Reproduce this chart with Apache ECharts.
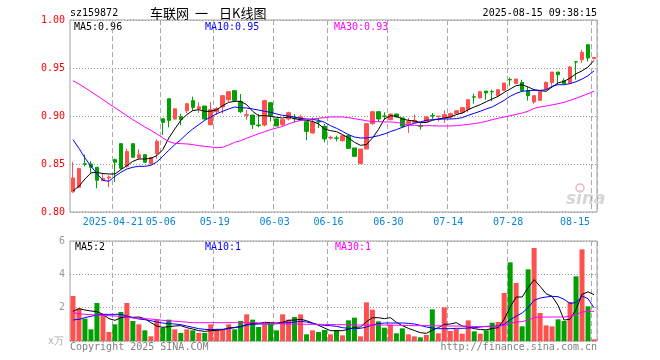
<!DOCTYPE html>
<html><head><meta charset="utf-8">
<script src="https://cdn.jsdelivr.net/npm/echarts/dist/echarts.min.js"></script>
<style>html,body{margin:0;padding:0;background:#fff}#c{width:660px;height:360px}</style>
</head><body><div id="c"></div>
<script>
const dates = ['2025-04-10','2025-04-11','2025-04-14','2025-04-15','2025-04-16','2025-04-17','2025-04-18','2025-04-21','2025-04-22','2025-04-23','2025-04-24','2025-04-25','2025-04-28','2025-04-29','2025-04-30',
'2025-05-06','2025-05-07','2025-05-08','2025-05-09','2025-05-12','2025-05-13','2025-05-14','2025-05-15','2025-05-16','2025-05-19','2025-05-20','2025-05-21','2025-05-22','2025-05-23','2025-05-26','2025-05-27','2025-05-28','2025-05-29','2025-05-30',
'2025-06-03','2025-06-04','2025-06-05','2025-06-06','2025-06-09','2025-06-10','2025-06-11','2025-06-12','2025-06-13','2025-06-16','2025-06-17','2025-06-18','2025-06-19','2025-06-20','2025-06-23','2025-06-24','2025-06-25','2025-06-26','2025-06-27','2025-06-30',
'2025-07-01','2025-07-02','2025-07-03','2025-07-04','2025-07-07','2025-07-08','2025-07-09','2025-07-10','2025-07-11','2025-07-14','2025-07-15','2025-07-16','2025-07-17','2025-07-18','2025-07-21','2025-07-22','2025-07-23','2025-07-24','2025-07-25','2025-07-28','2025-07-29','2025-07-30','2025-07-31',
'2025-08-01','2025-08-04','2025-08-05','2025-08-06','2025-08-07','2025-08-08','2025-08-11','2025-08-12','2025-08-13','2025-08-14','2025-08-15'];

const opens = [0.821,0.8257,0.8503,0.85,0.8466,0.8327,0.8355,0.8545,0.8712,0.8476,
0.8712,0.8563,0.8597,0.85,0.8608,0.8972,0.918,0.8969,0.8993,0.9055,
0.916,0.9076,0.9104,0.891,0.9045,0.9094,0.917,0.9264,0.9149,0.9007,
0.901,0.8906,0.8906,0.9139,0.8969,0.891,0.8969,0.8979,0.8955,0.8941,
0.8823,0.8941,0.8892,0.8771,0.8771,0.8743,0.8795,0.8667,0.8504,0.8656,
0.892,0.9045,0.9,0.8962,0.902,0.898,0.892,0.8934,0.8899,0.8944,
0.9005,0.8995,0.898,0.899,0.9024,0.9038,0.9066,0.92,0.9188,0.926,
0.9255,0.9212,0.9267,0.938,0.934,0.935,0.9264,0.9146,0.9163,0.928,
0.935,0.9458,0.9368,0.9344,0.9566,0.9586,0.9743,0.9597];
const closes = [0.8355,0.8452,0.8497,0.8466,0.833,0.8348,0.8365,0.8518,0.8455,0.8629,
0.857,0.8597,0.8518,0.857,0.8736,0.8934,0.8955,0.9076,0.8962,0.9128,
0.909,0.9097,0.8969,0.9066,0.9076,0.9212,0.9253,0.9163,0.9045,0.9014,
0.891,0.8899,0.916,0.9003,0.8896,0.8962,0.9035,0.8972,0.899,0.884,
0.8934,0.8937,0.876,0.8778,0.8767,0.8795,0.8663,0.858,0.8656,0.892,
0.9045,0.8969,0.8997,0.902,0.899,0.8893,0.8944,0.8955,0.8892,0.899,
0.9001,0.8999,0.9014,0.9024,0.9055,0.9087,0.917,0.9196,0.9253,0.924,
0.9251,0.9274,0.9344,0.9376,0.9385,0.9264,0.9212,0.9212,0.9257,0.935,
0.9458,0.943,0.9337,0.951,0.9562,0.9663,0.9604,0.961];
const lows = [0.820,0.825,0.8476,0.8407,0.8247,0.832,0.8257,0.8313,0.8441,0.8462,
0.857,0.8549,0.8518,0.85,0.8556,0.8802,0.8882,0.8962,0.8903,0.9031,
0.9055,0.9031,0.8962,0.89,0.901,0.9024,0.915,0.9146,0.9031,0.8962,
0.8865,0.8882,0.8892,0.8944,0.8896,0.889,0.8955,0.8934,0.8948,0.8747,
0.8816,0.8875,0.8726,0.8754,0.8736,0.8736,0.8663,0.858,0.8504,0.8656,
0.891,0.8941,0.8962,0.8955,0.8983,0.8875,0.8823,0.8927,0.8858,0.8944,
0.8969,0.8944,0.8927,0.8969,0.901,0.9024,0.9038,0.9128,0.9181,0.917,
0.9153,0.9205,0.926,0.9316,0.933,0.9264,0.916,0.9128,0.9163,0.928,
0.9316,0.933,0.9337,0.9344,0.9378,0.9552,0.9569,0.9597];
const highs = [0.852,0.846,0.8597,0.8528,0.8466,0.840,0.8382,0.8556,0.8712,0.866,
0.8712,0.8653,0.8597,0.857,0.8757,0.8972,0.918,0.9076,0.9024,0.9128,
0.9201,0.9142,0.9104,0.9146,0.9094,0.9212,0.9253,0.9264,0.9229,0.9062,
0.901,0.902,0.917,0.9139,0.8976,0.8962,0.9045,0.902,0.9014,0.8941,
0.8986,0.8979,0.8917,0.8795,0.8795,0.8802,0.8813,0.8667,0.8656,0.892,
0.9045,0.9045,0.9038,0.9024,0.9024,0.898,0.898,0.9014,0.8927,0.9,
0.9031,0.9,0.9059,0.9035,0.9062,0.9094,0.917,0.9233,0.9257,0.926,
0.9274,0.9274,0.9344,0.94,0.9385,0.9378,0.9302,0.9212,0.9257,0.936,
0.9458,0.9458,0.9392,0.9521,0.9566,0.969,0.9743,0.961];

const ma5 = [0.822,0.8268,0.8344,0.8407,0.8414,0.84,0.8396,0.8396,0.8441,0.8483,
0.8528,0.8552,0.8552,0.8559,0.8587,0.865,0.8771,0.8865,0.8955,0.9014,
0.9056,0.9066,0.9049,0.9049,0.9066,0.9108,0.9142,0.9153,0.9153,0.9118,
0.9049,0.9003,0.9003,0.8997,0.8986,0.8979,0.899,0.8972,0.8962,0.8955,
0.8944,0.8917,0.8865,0.8847,0.8837,0.8806,0.8771,0.8726,0.8695,0.8702,
0.8771,0.8858,0.8969,0.9003,0.8997,0.8969,0.8955,0.8948,0.8934,0.8931,
0.8955,0.8969,0.8979,0.899,0.9014,0.9031,0.9066,0.9094,0.9118,0.9149,
0.9177,0.9205,0.9246,0.9281,0.9316,0.9326,0.9302,0.9274,0.9264,0.9257,
0.9302,0.9344,0.9361,0.9395,0.944,0.947,0.951,0.958];
const ma10 = [0.8754,0.8663,0.8563,0.8476,0.84,0.833,0.832,0.8372,0.8414,0.8448,
0.8466,0.8476,0.8476,0.8486,0.8521,0.858,0.8643,0.8702,0.8754,0.8813,
0.8865,0.891,0.8955,0.899,0.9024,0.9049,0.9073,0.9094,0.9087,0.9083,
0.9073,0.9062,0.9049,0.9038,0.9021,0.9007,0.9,0.899,0.8976,0.8969,
0.8965,0.8955,0.8934,0.8899,0.8872,0.884,0.8806,0.8781,0.8771,0.8771,
0.8781,0.8795,0.8813,0.8837,0.8858,0.8882,0.8903,0.8924,0.8938,0.8955,
0.8962,0.8965,0.8969,0.8969,0.8972,0.8983,0.9007,0.9028,0.9049,0.9073,
0.9094,0.9128,0.9163,0.9205,0.9236,0.9257,0.9264,0.9267,0.9267,0.9274,
0.9309,0.9326,0.9326,0.9337,0.9357,0.9385,0.942,0.947];
const ma30 = [0.9368,0.9333,0.9295,0.9253,0.9212,0.917,0.9128,0.9087,0.9045,0.9003,
0.8962,0.8924,0.8885,0.8851,0.8813,0.8771,0.8733,0.8715,0.8712,0.8709,
0.8702,0.8691,0.8684,0.8677,0.867,0.8674,0.8698,0.8726,0.8743,0.8768,
0.8792,0.8816,0.8837,0.8858,0.8875,0.8892,0.8917,0.8938,0.8955,0.8962,
0.8969,0.8976,0.8983,0.899,0.899,0.899,0.8983,0.8972,0.8962,0.8951,
0.8941,0.8941,0.8938,0.8938,0.8934,0.892,0.8906,0.8903,0.8899,0.8899,
0.8899,0.8896,0.8896,0.8896,0.8899,0.8906,0.8913,0.892,0.8931,0.8944,
0.8962,0.8976,0.899,0.9003,0.9017,0.9031,0.9049,0.908,0.9094,0.9104,
0.9115,0.9128,0.9142,0.9163,0.9184,0.9208,0.9232,0.9258];

const vols = [2.7,1.95,1.34,0.7,2.28,1.6,0.54,1.0,1.74,2.28,
1.2,1.0,0.64,0.28,1.28,0.8,1.28,0.7,0.48,0.7,
0.64,0.48,0.48,1.0,0.7,0.7,1.0,0.7,1.2,1.6,
1.28,0.84,1.0,1.0,0.64,1.6,1.28,1.44,1.6,0.4,
0.64,0.54,0.66,0.4,0.64,0.34,1.24,1.4,0.28,2.32,
1.88,1.18,0.8,0.98,0.46,0.76,0.4,0.28,0.22,0.36,
1.9,0.46,2.02,0.6,0.72,0.44,1.24,0.58,0.44,0.64,
1.1,1.14,2.88,4.72,3.48,0.88,4.3,5.58,1.68,0.94,
0.88,1.3,1.2,2.34,3.88,5.5,2.08,0.1];
const vma5 = [1.78,1.94,1.86,1.8,1.76,1.6,1.34,1.24,1.4,1.45,
1.42,1.44,1.34,1.1,0.9,0.82,0.86,0.9,0.92,0.8,
0.72,0.62,0.58,0.62,0.64,0.68,0.78,0.82,0.86,0.98,
1.06,1.06,1.12,1.1,1.08,1.12,1.24,1.26,1.3,1.22,
1.08,0.94,0.78,0.62,0.62,0.62,0.7,0.82,0.84,1.16,
1.4,1.4,1.34,1.4,1.12,0.92,0.76,0.63,0.5,0.46,
0.65,0.8,1.0,1.02,1.1,0.9,0.85,0.74,0.69,0.67,
0.75,0.8,1.3,2.04,2.64,2.64,3.2,3.68,3.28,2.84,
2.68,2.14,1.26,1.3,1.9,2.8,2.95,2.78];
const vma10 = [1.26,1.3,1.4,1.48,1.56,1.6,1.6,1.6,1.6,1.5,
1.4,1.32,1.28,1.22,1.14,1.08,1.04,1.02,0.98,0.9,
0.82,0.74,0.7,0.68,0.7,0.7,0.74,0.8,0.86,0.96,
1.0,1.02,1.02,1.02,1.04,1.08,1.1,1.14,1.18,1.14,
1.06,0.98,0.94,0.92,0.88,0.8,0.76,0.74,0.76,0.84,
0.96,1.04,1.08,1.08,1.08,1.08,1.06,1.02,0.94,0.84,
0.78,0.74,0.74,0.74,0.76,0.76,0.78,0.8,0.84,0.88,
0.88,0.9,1.0,1.28,1.48,1.68,2.0,2.44,2.58,2.64,
2.68,2.66,2.5,2.26,2.3,2.7,2.54,1.99];
const vma30 = [1.7,1.64,1.6,1.58,1.56,1.54,1.52,1.5,1.47,1.44,
1.38,1.36,1.34,1.32,1.28,1.24,1.22,1.19,1.16,1.13,
1.1,1.1,1.1,1.1,1.1,1.1,1.1,1.1,1.1,1.1,
1.1,1.08,1.06,1.04,1.04,1.03,1.02,1.02,1.01,1.0,
1.0,1.0,1.0,0.99,0.98,0.98,0.97,0.96,0.96,0.96,
0.96,0.96,0.96,0.95,0.95,0.94,0.93,0.92,0.92,0.92,
0.92,0.91,0.91,0.9,0.9,0.89,0.88,0.87,0.86,0.86,
0.86,0.88,0.94,1.06,1.14,1.16,1.26,1.4,1.44,1.44,
1.44,1.44,1.44,1.48,1.58,1.74,1.78,1.78];

const tickDates = ['2025-04-21','2025-05-06','2025-05-19','2025-06-03','2025-06-16','2025-06-30','2025-07-14','2025-07-28','2025-08-15'];
const tickLabels = ['2025-04-21','05-06','05-19','06-03','06-16','06-30','07-14','07-28','08-15'];
const priceTicks = {min: 0.80, max: 1.00, step: 0.05};
const volTicks = {min: 0, max: 6, step: 2};

const UP = '#ff5050', DOWN = '#00a000';
const MONO = 'DejaVu Sans Mono';
const isTick = (idx, val) => tickDates.indexOf(val) >= 0;

const chart = echarts.init(document.getElementById('c'), null, {renderer: 'canvas'});
const splitV = {show: true, interval: isTick, lineStyle: {color: '#aaaaaa', type: [5, 3], width: 1}};
const splitH = {show: true, lineStyle: {color: '#999999', type: [1, 2], width: 1}};

const lineSeries = (name, data, color, xi, yi) => ({
  name, type: 'line', data, xAxisIndex: xi, yAxisIndex: yi, symbol: 'none', showSymbol: false,
  lineStyle: {color, width: 1}, itemStyle: {color}, silent: true, z: 3
});

const txt = (text, x, y, fill, font, align) => ({
  type: 'text', x, y, silent: true,
  style: {text, fill, font, textAlign: align || 'left', textVerticalAlign: 'middle'}
});

chart.setOption({
  animation: false,
  backgroundColor: '#ffffff',
  grid: [
    {left: 70, top: 20, width: 527, height: 192, show: true, borderColor: '#a0a0a0', borderWidth: 1},
    {left: 70, top: 241, width: 527, height: 100, show: true, borderColor: '#a0a0a0', borderWidth: 1}
  ],
  xAxis: [
    {type: 'category', gridIndex: 0, data: dates, boundaryGap: true,
     axisLine: {show: false}, axisTick: {show: false},
     axisLabel: {interval: isTick, formatter: v => tickLabels[tickDates.indexOf(v)],
       color: '#0a84d8', fontFamily: MONO, fontSize: 10, margin: 5, padding: [0, 4, 0, 0], alignMaxLabel: 'right'},
     splitLine: splitV},
    {type: 'category', gridIndex: 1, data: dates, boundaryGap: true,
     axisLine: {show: false}, axisTick: {show: false}, axisLabel: {show: false},
     splitLine: splitV}
  ],
  yAxis: [
    {type: 'value', gridIndex: 0, min: priceTicks.min, max: priceTicks.max, interval: priceTicks.step,
     axisLine: {show: false}, axisTick: {show: false},
     axisLabel: {color: '#ff0000', fontFamily: MONO, fontSize: 10, margin: 5, formatter: v => v.toFixed(2)},
     splitLine: splitH},
    {type: 'value', gridIndex: 1, min: volTicks.min, max: volTicks.max, interval: volTicks.step,
     axisLine: {show: false}, axisTick: {show: false},
     axisLabel: {color: '#999999', fontFamily: MONO, fontSize: 10, margin: 5, formatter: v => v === 0 ? '' : String(v)},
     splitLine: splitH}
  ],
  series: [
    {type: 'candlestick', xAxisIndex: 0, yAxisIndex: 0, barWidth: 4,
     data: opens.map((o, i) => [o, closes[i], lows[i], highs[i]]),
     itemStyle: {color: UP, color0: DOWN, borderColor: UP, borderColor0: DOWN, borderWidth: 1}, z: 2},
    lineSeries('MA5', ma5, '#000000', 0, 0),
    lineSeries('MA10', ma10, '#0000ff', 0, 0),
    lineSeries('MA30', ma30, '#ff00ff', 0, 0),
    {type: 'bar', xAxisIndex: 1, yAxisIndex: 1, barWidth: 5,
     data: vols.map((v, i) => ({value: v, itemStyle: {color: closes[i] >= opens[i] ? UP : DOWN}})), z: 2},
    lineSeries('VMA5', vma5, '#000000', 1, 1),
    lineSeries('VMA10', vma10, '#0000ff', 1, 1),
    lineSeries('VMA30', vma30, '#ff00ff', 1, 1)
  ],
  graphic: [
    txt('sz159872', 70, 13, '#000000', '10px ' + MONO),
    txt('车联网', 150, 13, '#000000', '13px "Noto Sans CJK SC"'),
    txt('一', 195, 13, '#000000', '13px "Noto Sans CJK SC"'),
    txt('日K线图', 219, 13, '#000000', '13px "Noto Sans CJK SC"'),
    txt('2025-08-15 09:38:15', 597, 13, '#000000', '10px ' + MONO, 'right'),
    txt('MA5:0.96', 74, 27, '#000000', '10px ' + MONO),
    txt('MA10:0.95', 205, 27, '#0000ff', '10px ' + MONO),
    txt('MA30:0.93', 334, 27, '#ff00ff', '10px ' + MONO),
    txt('MA5:2', 75, 247, '#000000', '10px ' + MONO),
    txt('MA10:1', 205, 247, '#0000ff', '10px ' + MONO),
    txt('MA30:1', 335, 247, '#ff00ff', '10px ' + MONO),
    txt('x万', 64, 341, '#aaaaaa', '10px ' + MONO, 'right'),
    txt('Copyright 2025 SINA.COM', 70, 347, '#808080', '10px ' + MONO),
    txt('http://finance.sina.com.cn', 597, 347, '#808080', '10px ' + MONO, 'right'),
    {type: 'circle', silent: true, shape: {cx: 580, cy: 188, r: 4}, style: {fill: 'none', stroke: '#f2b4b4', lineWidth: 1.5}},
    txt('sina', 566, 200, '#d6d6d6', 'italic bold 17px "DejaVu Sans"')
  ]
});
</script>
</body></html>
